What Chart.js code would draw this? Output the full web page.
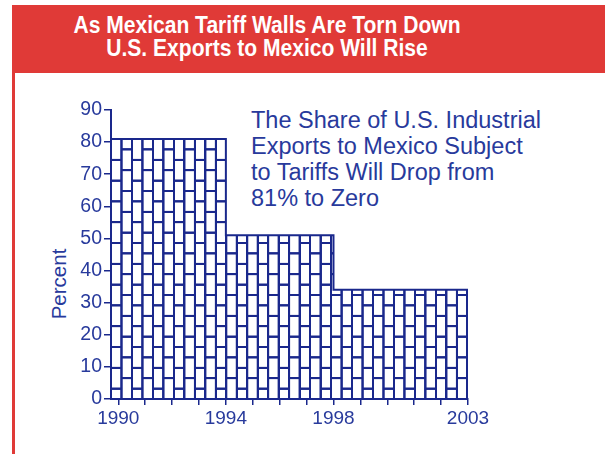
<!DOCTYPE html>
<html>
<head>
<meta charset="utf-8">
<script src="https://cdn.jsdelivr.net/npm/chart.js@4"></script>
<style>
    html, body {
        margin: 0;
        padding: 0;
        background: #fff;
    }
    #page {
        position: relative;
        width: 605px;
        height: 454px;
        overflow: hidden;
        background: #fff;
        font-family: 'Liberation Sans', Arial, sans-serif;
    }
    #banner {
        position: absolute;
        left: 12px;
        top: 5px;
        width: 593px;
        height: 68px;
        background: #e03a37;
    }
    #banner .lines {
        position: absolute;
        left: 0;
        top: 8.5px;
        width: 510px;
        color: #fff;
        font-weight: bold;
        font-size: 23px;
        line-height: 23px;
        text-align: center;
        transform: scaleX(0.915);
        transform-origin: 50% 50%;
    }
    #edge {
        position: absolute;
        left: 12px;
        top: 73px;
        width: 3px;
        height: 381px;
        background: #e03a37;
    }
    #note {
        position: absolute;
        left: 251px;
        top: 106.5px;
        color: #283a9c;
        font-size: 23.5px;
        line-height: 26px;
        white-space: nowrap;
    }
    #yTitle {
        position: absolute;
        left: 59px;
        top: 284px;
        color: #283a9c;
        font-size: 20.5px;
        white-space: nowrap;
        transform: translate(-50%, -50%) rotate(-90deg);
    }
    #shareChart {
        position: absolute;
        left: 0;
        top: 0;
    }
</style>
</head>
<body>
<div id="page">
    <div id="banner">
        <div class="lines">As Mexican Tariff Walls Are Torn Down<br>U.S. Exports to Mexico Will Rise</div>
    </div>
    <div id="edge"></div>
    <div id="note">The Share of U.S. Industrial<br>Exports to Mexico Subject<br>to Tariffs Will Drop from<br>81% to Zero</div>
    <div id="yTitle">Percent</div>
    <canvas id="shareChart" width="605" height="454"></canvas>
</div>
<script>
(function() {
    'use strict';

    // Share of industrial exports subject to tariffs, by period start year
    const stepYears = [1990, 1994, 1998, 2003];
    const shareValues = [81, 51, 34, 0];

    const yTicks = [0, 10, 20, 30, 40, 50, 60, 70, 80, 90];
    const labelYears = [1990, 1994, 1998, 2003];
    const tickYears = [1990, 1991, 1992, 1993, 1994, 1995, 1996, 1997, 1998, 1999, 2000, 2001, 2002, 2003];

    const NAVY = '#1a288c';
    const TEXT = '#283a9c';
    const X_MIN = 1989.73;
    const BRICK_W = 10.48;
    const BRICK_H = 20.8;

    // brick tile drawn at 4x and scaled down by the pattern transform
    function makeBrickPattern(ctx) {
        const size = 84;
        const tile = document.createElement('canvas');
        tile.width = size;
        tile.height = size;
        const t = tile.getContext('2d');
        const w = 9, h = w / 2, mid = size / 2;
        t.fillStyle = NAVY;
        t.fillRect(0, 0, h, size);
        t.fillRect(size - h, 0, h, size);
        t.fillRect(mid - h, 0, w, size);
        t.fillRect(0, 0, mid, h);
        t.fillRect(0, size - h, mid, h);
        t.fillRect(mid, mid - h, mid, w);
        return ctx.createPattern(tile, 'repeat');
    }

    const canvas = document.getElementById('shareChart');
    const ctx = canvas.getContext('2d');
    const bricks = makeBrickPattern(ctx);

    const alignBricks = {
        id: 'alignBricks',
        beforeDatasetsDraw: function(chart) {
            const area = chart.chartArea;
            const m = new DOMMatrix()
                .translateSelf(area.left, area.bottom - BRICK_H / 2)
                .scaleSelf(2 * BRICK_W / 84, BRICK_H / 84);
            bricks.setTransform(m);
        }
    };

    const points = stepYears.map(function(year, i) {
        // first wall starts right at the axis
        return { x: i === 0 ? X_MIN : year, y: shareValues[i] };
    });

    Chart.defaults.font.family = "'Liberation Sans', Arial, sans-serif";
    Chart.defaults.color = TEXT;

    new Chart(ctx, {
        type: 'line',
        data: {
            datasets: [{
                data: points,
                stepped: 'before',
                fill: 'origin',
                backgroundColor: bricks,
                borderColor: NAVY,
                borderWidth: 2,
                pointRadius: 0,
                tension: 0,
            }],
        },
        options: {
            responsive: false,
            animation: false,
            events: [],
            layout: {
                padding: { top: 110, left: 47, right: 137, bottom: 25 },
            },
            plugins: {
                legend: { display: false },
                tooltip: { enabled: false },
            },
            scales: {
                x: {
                    type: 'linear',
                    min: X_MIN,
                    max: 2003,
                    afterBuildTicks: function(scale) {
                        scale.ticks = tickYears.map(function(v) { return { value: v }; });
                    },
                    afterFit: function(scale) { scale.height = 30; },
                    ticks: {
                        autoSkip: false,
                        maxRotation: 0,
                        padding: 2,
                        color: TEXT,
                        font: { size: 19 },
                        callback: function(v) {
                            return labelYears.indexOf(v) >= 0 ? String(v) : '';
                        },
                    },
                    grid: {
                        drawOnChartArea: false,
                        drawTicks: true,
                        tickLength: 6,
                        tickColor: NAVY,
                        lineWidth: 1.5,
                    },
                    border: { display: true, color: NAVY, width: 2, z: 1 },
                },
                y: {
                    min: 0,
                    max: 90,
                    afterBuildTicks: function(scale) {
                        scale.ticks = yTicks.map(function(v) { return { value: v }; });
                    },
                    afterFit: function(scale) { scale.width = 64; },
                    ticks: {
                        padding: 2,
                        color: TEXT,
                        font: { size: 19.5 },
                    },
                    grid: {
                        drawOnChartArea: false,
                        drawTicks: true,
                        tickLength: 7,
                        tickColor: NAVY,
                        lineWidth: 1.5,
                    },
                    border: { display: true, color: NAVY, width: 2, z: 1 },
                },
            },
        },
        plugins: [alignBricks],
    });
})();
</script>
</body>
</html>
